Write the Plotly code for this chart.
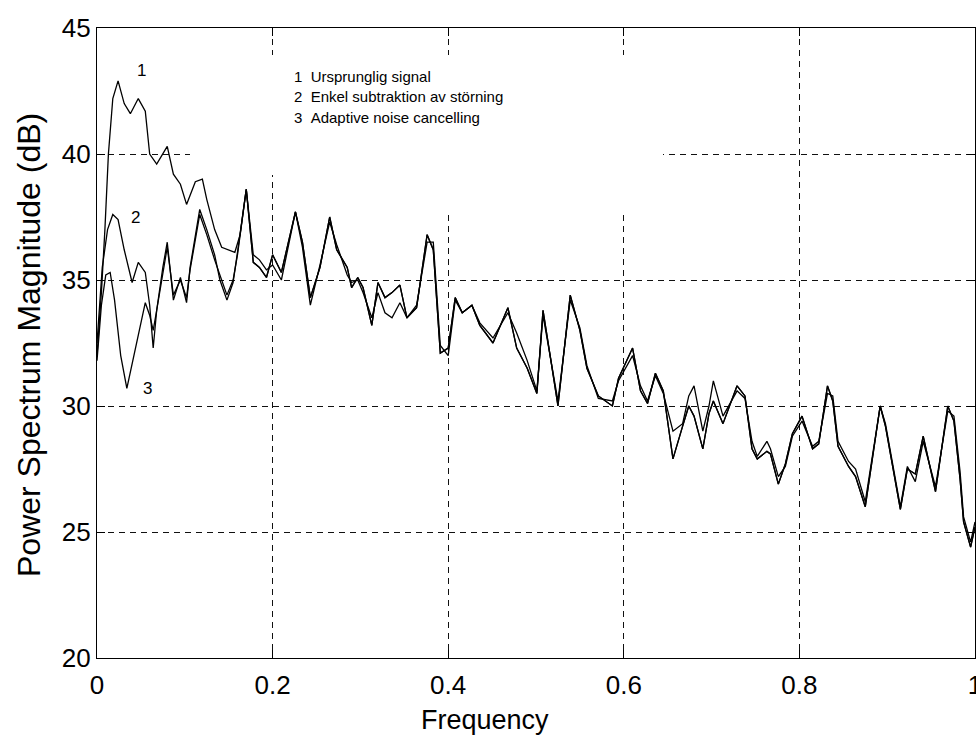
import plotly.graph_objects as go

# ---------------- data ----------------
# Curve 1: original signal (front part, before it joins the others)
F1 = [0.000, 0.005, 0.009, 0.013, 0.018, 0.024, 0.031, 0.038, 0.047, 0.055,
      0.060, 0.068, 0.080, 0.087, 0.095, 0.102, 0.112, 0.120, 0.125, 0.134,
      0.142, 0.150, 0.157, 0.163]
V1 = [32.0, 34.5, 37.0, 40.0, 42.2, 42.9, 42.0, 41.6, 42.2, 41.7,
      40.0, 39.6, 40.3, 39.2, 38.8, 38.0, 38.9, 39.0, 38.2, 37.0,
      36.3, 36.2, 36.1, 36.8]

# Curve 2: simple subtraction of disturbance (front part)
F2 = [0.000, 0.006, 0.012, 0.018, 0.024, 0.031, 0.040, 0.047, 0.055, 0.060,
      0.064, 0.068, 0.075, 0.080, 0.087, 0.095, 0.102, 0.106, 0.117, 0.125,
      0.134, 0.140, 0.148, 0.155, 0.160]
V2 = [32.5, 35.5, 37.0, 37.6, 37.4, 36.2, 34.9, 35.7, 35.3, 34.0,
      32.3, 33.8, 35.5, 36.5, 34.2, 35.1, 34.1, 35.5, 37.8, 37.0,
      36.0, 35.0, 34.2, 34.9, 36.1]

# Curve 3: adaptive noise cancelling (front part)
F3 = [0.000, 0.005, 0.010, 0.015, 0.020, 0.027, 0.034, 0.042, 0.049, 0.055,
      0.060, 0.064, 0.068, 0.075, 0.080, 0.087, 0.095, 0.102, 0.106, 0.117,
      0.125, 0.134, 0.140, 0.148, 0.155, 0.160]
V3 = [31.8, 34.0, 35.2, 35.3, 34.2, 32.0, 30.7, 32.0, 33.1, 34.1,
      33.6, 33.0, 33.8, 35.3, 36.3, 34.4, 35.0, 34.3, 35.4, 37.6,
      36.8, 35.8, 35.2, 34.4, 35.0, 36.0]

# Common tail (frequency 0.17 .. 1); A = curves 2 & 3, B = curve 1
TAIL_F = [0.170, 0.178, 0.185, 0.193, 0.200, 0.210, 0.218, 0.226, 0.234, 0.243,
          0.254, 0.265, 0.273, 0.285, 0.290, 0.297, 0.303, 0.313, 0.320, 0.328,
          0.336, 0.345, 0.353, 0.364, 0.376, 0.383, 0.391, 0.400, 0.408, 0.416,
          0.427, 0.436, 0.451, 0.468, 0.478, 0.490, 0.501, 0.508, 0.517, 0.525,
          0.539, 0.550, 0.558, 0.571, 0.587, 0.594, 0.610, 0.619, 0.627, 0.636,
          0.645, 0.656, 0.667, 0.674, 0.680, 0.690, 0.697, 0.702, 0.713, 0.729,
          0.738, 0.746, 0.752, 0.763, 0.767, 0.776, 0.784, 0.792, 0.803, 0.815,
          0.822, 0.832, 0.838, 0.844, 0.856, 0.864, 0.875, 0.892, 0.898, 0.915,
          0.923, 0.932, 0.941, 0.955, 0.969, 0.976, 0.983, 0.987, 0.995, 1.000]
TAIL_A = [38.6, 35.7, 35.5, 35.1, 36.0, 35.3, 36.5, 37.7, 36.5, 34.3,
          35.5, 37.5, 36.2, 35.5, 34.7, 35.1, 34.7, 33.2, 34.9, 34.3,
          34.5, 34.8, 33.5, 33.9, 36.8, 36.2, 32.1, 32.3, 34.3, 33.7,
          34.0, 33.2, 32.5, 33.9, 32.3, 31.5, 30.5, 33.8, 31.8, 30.0,
          34.4, 33.0, 31.5, 30.4, 30.0, 31.1, 32.3, 30.6, 30.1, 31.3,
          30.6, 27.9, 29.2, 30.0, 29.6, 28.3, 29.7, 30.2, 29.3, 30.8,
          30.4, 28.3, 27.9, 28.2, 28.1, 26.9, 27.7, 28.9, 29.6, 28.3,
          28.5, 30.8, 30.2, 28.4, 27.6, 27.2, 26.0, 30.0, 29.2, 25.9,
          27.5, 27.3, 28.8, 26.6, 30.0, 29.4, 27.1, 25.4, 24.4, 25.2]
TAIL_B = [38.6, 36.0, 35.8, 35.4, 35.6, 35.0, 36.3, 37.7, 36.3, 34.0,
          35.6, 37.3, 36.4, 35.2, 34.9, 35.0, 34.5, 33.5, 34.5, 33.7,
          33.5, 34.1, 33.5, 34.0, 36.5, 36.5, 32.4, 32.0, 34.2, 33.7,
          34.0, 33.3, 32.7, 33.7, 32.9, 31.8, 30.6, 33.6, 31.8, 30.2,
          34.2, 33.1, 31.6, 30.3, 30.2, 31.0, 32.0, 30.8, 30.2, 31.2,
          30.5, 29.0, 29.3, 30.4, 30.8, 29.0, 30.0, 31.0, 29.6, 30.6,
          30.3, 28.6, 28.0, 28.6, 28.3, 27.2, 27.6, 28.8, 29.4, 28.4,
          28.6, 30.5, 30.4, 28.6, 27.8, 27.5, 26.2, 30.0, 29.3, 26.0,
          27.6, 27.0, 28.6, 26.8, 29.8, 29.6, 27.4, 25.6, 24.6, 25.4]

X_TICKS = [0, 0.2, 0.4, 0.6, 0.8, 1]
X_TICK_TEXT = ["0", "0.2", "0.4", "0.6", "0.8", "1"]
Y_TICKS = [20, 25, 30, 35, 40, 45]

LEGEND_LINES = ["1\u00a0\u00a0Ursprunglig signal",
                "2\u00a0\u00a0Enkel subtraktion av störning",
                "3\u00a0\u00a0Adaptive noise cancelling"]

# ---------------- layout geometry ----------------
W, H = 976, 737
L, R, T, B = 97, 1, 28, 79
PW, PH = W - L - R, H - T - B
X0, X1, Y0, Y1 = 0.0, 1.0, 20.0, 45.0


def dx(px):
    return X0 + (px - L) / PW * (X1 - X0)


def dy(py):
    return Y1 - (py - T) / PH * (Y1 - Y0)


FONT = "Liberation Sans, Arial, sans-serif"

fig = go.Figure()
line = dict(color="black", width=1.3)
fig.add_trace(go.Scatter(x=F1 + TAIL_F, y=V1 + TAIL_B, mode="lines", line=line,
                         showlegend=False, hoverinfo="skip"))
fig.add_trace(go.Scatter(x=F2 + TAIL_F, y=V2 + TAIL_A, mode="lines", line=line,
                         showlegend=False, hoverinfo="skip"))
fig.add_trace(go.Scatter(x=F3 + TAIL_F, y=V3 + TAIL_A, mode="lines", line=line,
                         showlegend=False, hoverinfo="skip"))

# white areas behind the text block hide the grid there
shapes = [
    dict(type="rect", xref="x", yref="y", x0=dx(190), x1=dx(663), y0=dy(175), y1=dy(55),
         fillcolor="white", line=dict(width=0), layer="between"),
    dict(type="rect", xref="x", yref="y", x0=dx(290), x1=dx(663), y0=dy(210), y1=dy(55),
         fillcolor="white", line=dict(width=0), layer="between"),
]

annotations = []
for i, txt in enumerate(LEGEND_LINES):
    annotations.append(dict(x=dx(292), y=dy(76 + 20.5 * i), xref="x", yref="y",
                            text=txt, showarrow=False, xanchor="left", yanchor="middle",
                            font=dict(family=FONT, size=15, color="black")))
for lbl, (px, py) in zip(["1", "2", "3"], [(141, 70), (135, 217), (147, 388)]):
    annotations.append(dict(x=dx(px), y=dy(py), xref="x", yref="y", text=lbl,
                            showarrow=False, xanchor="center", yanchor="middle",
                            font=dict(family=FONT, size=17, color="black")))
annotations.append(dict(x=dx(485), y=0, xref="x", yref="paper", yshift=-62,
                        text="Frequency", showarrow=False, xanchor="center",
                        yanchor="middle", font=dict(family=FONT, size=27, color="black")))
annotations.append(dict(x=0, y=dy(345), xref="paper", yref="y", xshift=-68,
                        text="Power Spectrum Magnitude (dB)", textangle=-90,
                        showarrow=False, xanchor="center", yanchor="middle",
                        font=dict(family=FONT, size=32, color="black")))

axis_common = dict(showgrid=True, gridcolor="#111111", gridwidth=1, griddash="6px,5px",
                   showline=True, linecolor="black", linewidth=1.3, mirror="ticks",
                   ticks="inside", ticklen=8, tickcolor="black", zeroline=False,
                   ticklabeloverflow="allow", automargin=False,
                   tickfont=dict(family=FONT, size=26, color="black"))

fig.update_layout(
    width=W, height=H,
    margin=dict(l=L, r=R, t=T, b=B, pad=0, autoexpand=False),
    paper_bgcolor="white", plot_bgcolor="white",
    xaxis=dict(range=[X0, X1], tickvals=X_TICKS, ticktext=X_TICK_TEXT,
               ticklabelstandoff=4, **axis_common),
    yaxis=dict(range=[Y0, Y1], tickvals=Y_TICKS, **axis_common),
    shapes=shapes, annotations=annotations,
)

fig.write_html("out.html")
